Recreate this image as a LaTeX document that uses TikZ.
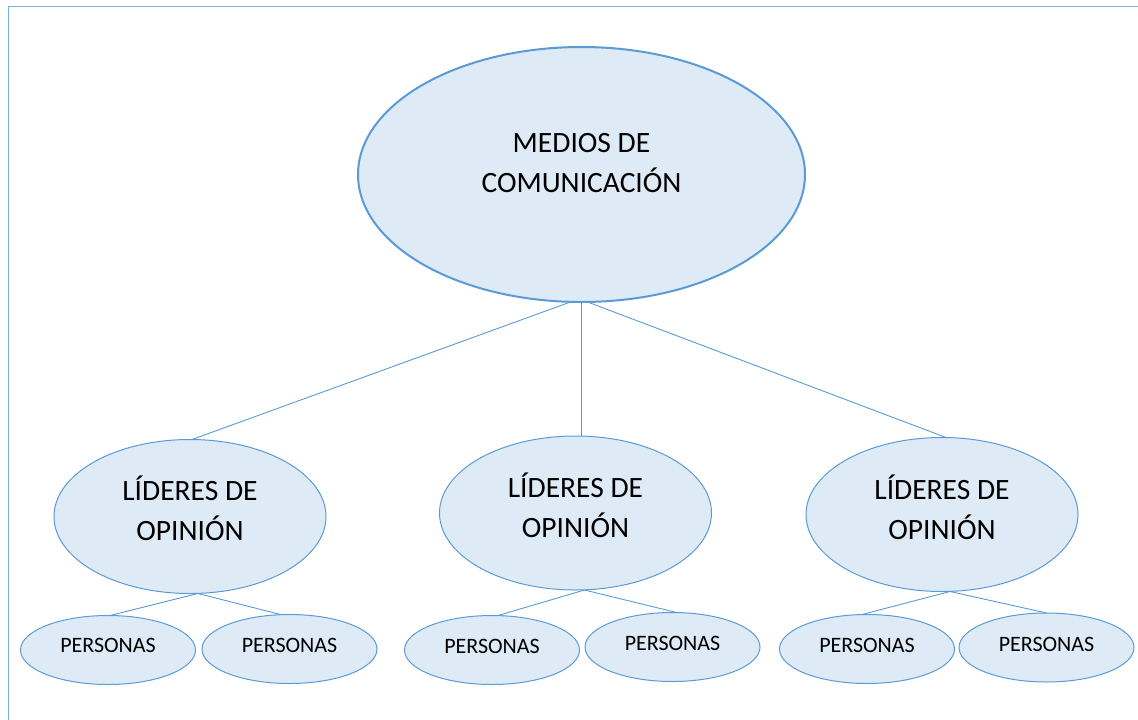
\documentclass[tikz,border=0pt]{standalone}
\usepackage{fontspec}
\setmainfont{Carlito}
\usetikzlibrary{shapes.geometric}
\definecolor{edgeblue}{HTML}{5B9BD5}
\definecolor{fillblue}{HTML}{DEEBF7}
\definecolor{frameblue}{HTML}{7AAEE0}
\begin{document}
\begin{tikzpicture}[x=1pt,y=-1pt,
  oval/.style={ellipse, draw=edgeblue, fill=fillblue, inner sep=0pt, outer sep=0pt, line width=1pt},
  bigoval/.style={oval, minimum width=447pt, minimum height=255pt, line width=2pt},
  midoval/.style={oval, minimum width=272pt, minimum height=154pt},
  smalloval/.style={oval, minimum width=175pt, minimum height=69pt},
  bigtext/.style={font=\fontsize{29.5}{40}\selectfont, align=center, text=black, inner sep=0pt},
  smalltext/.style={font=\fontsize{22}{26}\selectfont, text=black, inner sep=0pt},
  link/.style={draw=edgeblue, line width=0.9pt}]
\useasboundingbox (0,0) rectangle (1138,720);
\fill[white] (0,0) rectangle (1138,720);
\draw[frameblue, line width=1.3pt] (8.5,720) -- (8.5,6.5) -- (1138,6.5);

% top
\node[bigoval] (top) at (581.5,174.5) {};
\node[bigtext] (toptxt) at (581.5,163) {MEDIOS DE\\COMUNICACIÓN};

% middle level
\node[midoval] (la) at (190,516.5) {};
\node[midoval] (lb) at (575.5,513) {};
\node[midoval] (lc) at (942,514.5) {};
\node[bigtext] (latxt) at (190,508) {LÍDERES DE\\OPINIÓN};
\node[bigtext] (lbtxt) at (575.5,505) {LÍDERES DE\\OPINIÓN};
\node[bigtext] (lctxt) at (942,507) {LÍDERES DE\\OPINIÓN};

% bottom level
\node[smalloval] (pa1) at (108,650) {};
\node[smalloval] (pa2) at (289.5,649) {};
\node[smalloval] (pb1) at (492,650) {};
\node[smalloval] (pb2) at (672.5,647) {};
\node[smalloval] (pc1) at (867,649) {};
\node[smalloval] (pc2) at (1046.5,647.5) {};
\node[smalltext] (pa1t) at (108,645.5) {PERSONAS};
\node[smalltext] (pa2t) at (289.5,645.5) {PERSONAS};
\node[smalltext] (pb1t) at (492,646.5) {PERSONAS};
\node[smalltext] (pb2t) at (672.5,643.5) {PERSONAS};
\node[smalltext] (pc1t) at (867,645.5) {PERSONAS};
\node[smalltext] (pc2t) at (1046.5,644) {PERSONAS};

% connectors
\draw[link] ([xshift=-11pt]top.south) -- ([xshift=2pt]la.north);
\draw[link] (top.south) -- (top.south |- lb.north);
\draw[link] ([xshift=6pt]top.south) -- ([xshift=4pt]lc.north);

\draw[link] ([xshift=8pt]la.south) -- ([xshift=2pt]pa1.north);
\draw[link] ([xshift=8pt]la.south) -- ([xshift=-9pt]pa2.north);
\draw[link] ([xshift=9pt]lb.south) -- ([xshift=6pt]pb1.north);
\draw[link] ([xshift=9pt]lb.south) -- ([xshift=4pt]pb2.north);
\draw[link] ([xshift=8pt]lc.south) -- ([xshift=-5pt]pc1.north);
\draw[link] ([xshift=8pt]lc.south) -- ([xshift=0pt]pc2.north);
\end{tikzpicture}
\end{document}
